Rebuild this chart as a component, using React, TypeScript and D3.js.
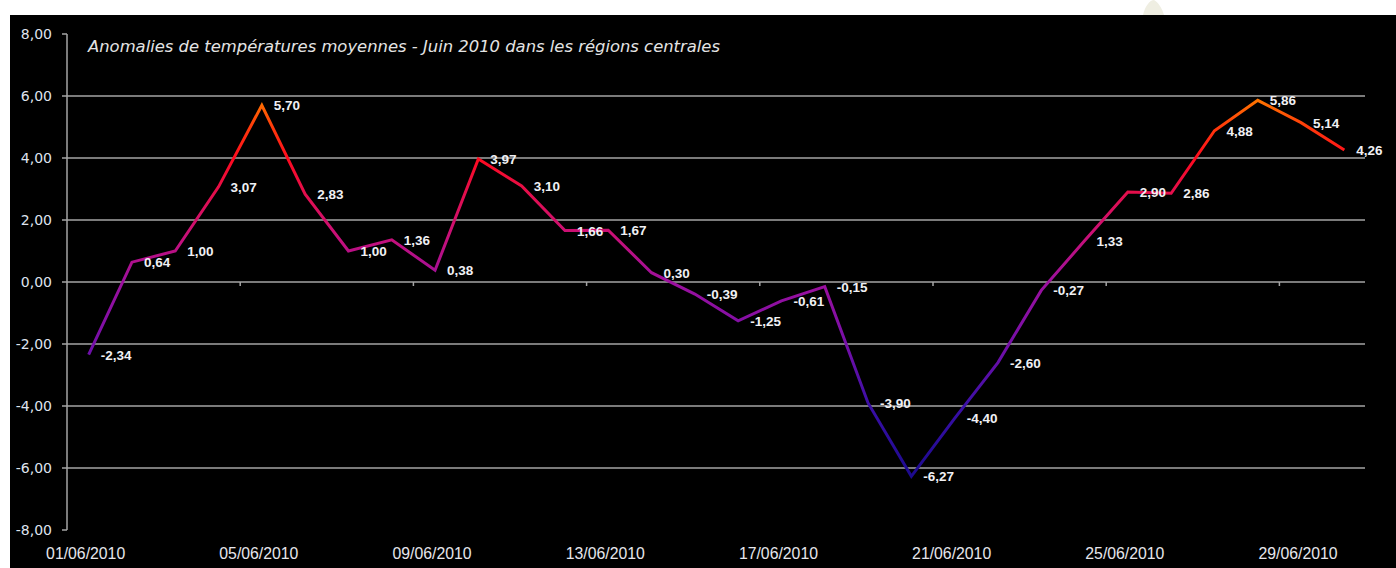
import React from 'react';
import * as d3 from 'd3';

// Anomalies de températures, juin 2010
const days = d3.range(1, 31).map((d) => String(d).padStart(2, '0') + '/06/2010');
const anomalies = [
    -2.34, 0.64, 1.00, 3.07, 5.70, 2.83, 1.00, 1.36, 0.38, 3.97,
    3.10, 1.66, 1.67, 0.30, -0.39, -1.25, -0.61, -0.15, -3.90, -6.27,
    -4.40, -2.60, -0.27, 1.33, 2.90, 2.86, 4.88, 5.86, 5.14, 4.26
];
const yTicks = [8, 6, 4, 2, 0, -2, -4, -6, -8];
const labelDays = days.filter((d, i) => i % 4 === 0);
const title = 'Anomalies de températures moyennes - Juin 2010 dans les régions centrales';

// couleur de la courbe selon la valeur
const colorStops: [number, string][] = [
    [-6.27, '#1c0a8e'],
    [-4, '#3a0fa6'],
    [-2, '#760fa8'],
    [0, '#9c109e'],
    [1.5, '#c81078'],
    [3, '#e60e48'],
    [4, '#ff0a1e'],
    [5, '#ff3a0a'],
    [5.86, '#ff7400']
];

const fmt = (v: number) => v.toFixed(2).replace('.', ',');

export default function App()
{
    const width = 1396;
    const height = 568;

    const x = d3.scaleBand<string>().domain(days).range([67, 1366]).paddingInner(0).paddingOuter(0);
    const y = d3.scaleLinear().domain([-8, 8]).range([530, 34]);
    const cx = (d: string) => (x(d) as number) + x.bandwidth() / 2;

    const line = d3.line<number>()
        .x((v, i) => cx(days[i]))
        .y((v) => y(v));

    const yLo = y(d3.min(anomalies) as number);
    const yHi = y(d3.max(anomalies) as number);
    const off = d3.scaleLinear().domain([yLo, yHi]).range([0, 1]);

    const boundaries = d3.range(4, 30, 4).map((i) => x(days[i]) as number);

    return (
        <svg width={width} height={height} style={{position: 'absolute', left: 0, top: 0}}>
            <defs>
                <linearGradient id="tempGrad" gradientUnits="userSpaceOnUse" x1="0" x2="0" y1={yLo} y2={yHi}>
                    {colorStops.map(([v, c], i) => (
                        <stop key={i} offset={off(y(v))} stopColor={c}/>
                    ))}
                </linearGradient>
            </defs>
            <rect x={0} y={0} width={width} height={height} fill="#ffffff"/>
            <path d="M1143,15 C1145,6 1150,0 1154,0 C1158,2 1162,8 1164,15 Z" fill="#efeee2"/>
            <rect x={10} y={15} width={width - 10} height={height - 15} fill="#000000"/>

            <text x={88} y={52} fill="#e4e4e4" fontFamily="DejaVu Sans" fontStyle="italic" fontSize={15}
                  textLength={632} lengthAdjust="spacingAndGlyphs">
                {title}
            </text>

            {/* grille */}
            {yTicks.filter((t) => t > -8 && t < 8).map((t) => (
                <line key={t} x1={67} x2={1365} y1={y(t)} y2={y(t)} stroke="#a4a4a4" strokeWidth={1.5}/>
            ))}

            {/* axe vertical */}
            <line x1={67} x2={67} y1={y(8)} y2={y(-8)} stroke="#a4a4a4" strokeWidth={1.5}/>
            {yTicks.map((t) => (
                <g key={t}>
                    <line x1={62} x2={67} y1={y(t)} y2={y(t)} stroke="#a4a4a4" strokeWidth={1.5}/>
                    <text x={52} y={y(t) + 5} textAnchor="end" fill="#dfe3ee"
                          fontFamily="DejaVu Sans" fontSize={14}>
                        {fmt(t)}
                    </text>
                </g>
            ))}

            {/* graduations sur l'axe 0 */}
            {boundaries.map((bx, i) => (
                <line key={i} x1={bx} x2={bx} y1={y(0)} y2={y(0) + 4} stroke="#a4a4a4" strokeWidth={1.5}/>
            ))}

            {labelDays.map((d) => (
                <text key={d} x={cx(d) - 3} y={559} textAnchor="middle" fill="#e6e6ec"
                      fontFamily="Liberation Sans" fontSize={15.8}>
                    {d}
                </text>
            ))}

            <path d={line(anomalies) as string} fill="none" stroke="url(#tempGrad)"
                  strokeWidth={3} strokeLinejoin="miter"/>

            {anomalies.map((v, i) => (
                <text key={i} x={cx(days[i]) + 12} y={y(v) + 5} fill="#f0f0f4"
                      fontFamily="Liberation Sans" fontWeight="bold" fontSize={13.5}>
                    {fmt(v)}
                </text>
            ))}
        </svg>
    );
}
